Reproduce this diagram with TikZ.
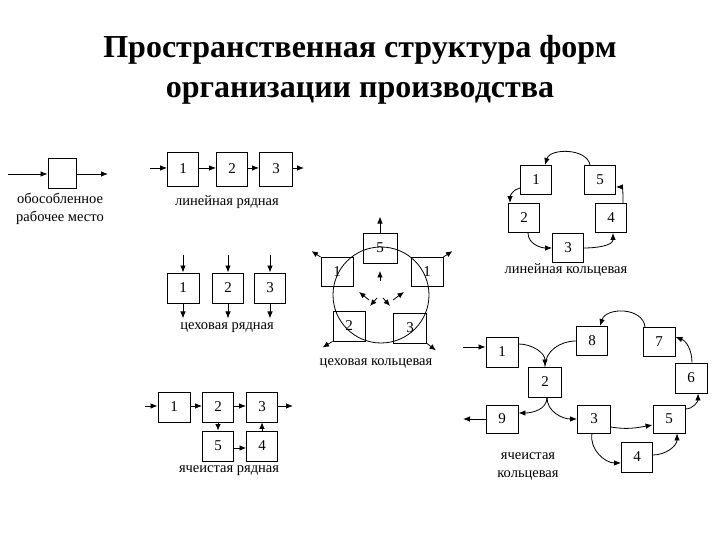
\documentclass[tikz,border=0pt]{standalone}
\usepackage{fontspec}
\setmainfont{Liberation Serif}
\usetikzlibrary{arrows.meta}
\begin{document}
\begin{tikzpicture}[x=1pt,y=1pt,
  box/.style={draw, line width=0.9pt, minimum width=31pt, minimum height=30pt, inner sep=0pt,
    text height=10pt, text depth=1.5pt, font=\fontsize{15}{16}\selectfont},
  arr/.style={line width=0.8pt, -{Latex[length=7pt,width=5.5pt]}},
  sarr/.style={line width=0.8pt, -{Latex[length=6.5pt,width=5.5pt]}},
  lbl/.style={font=\fontsize{14.5}{18}\selectfont, align=center, inner sep=0pt}]
\useasboundingbox (0,0) rectangle (720,540);

% title
\node[font=\fontsize{32}{40}\selectfont\bfseries, align=center] (title) at (360,470)
  {Пространственная структура форм\\организации производства};

% isolated workplace
\node[box, minimum width=28pt] (iso) at (62,367) {};
\coordinate (isoin) at (8,366);
\coordinate (isoout) at (108,366);
\draw[arr] (isoin) -- (iso.west |- isoin);
\draw[arr] (iso.east |- isoout) -- (isoout);
\node[lbl] (isolbl) at (60,331) {обособленное\\рабочее место};

% linear row
\node[box, minimum height=34pt] (lr1) at (183,371) {1};
\node[box, minimum height=34pt] (lr2) at (232,371) {2};
\node[box, minimum height=34pt, minimum width=33pt] (lr3) at (276,371) {3};
\coordinate (lrin) at (150,372);
\coordinate (lrout) at (304,372);
\draw[arr] (lrin) -- (lr1.west |- lrin);
\draw[arr] (lr1.east |- lrin) -- (lr2.west |- lrin);
\draw[arr] (lr2.east |- lrin) -- (lr3.west |- lrin);
\draw[arr] (lr3.east |- lrin) -- (lrout);
\node[lbl] (lrlbl) at (227,338) {линейная рядная};

% workshop row
\node[box, minimum width=32pt] (wr1) at (183,252) {1};
\node[box] (wr2) at (228,252) {2};
\node[box] (wr3) at (270,252) {3};
\foreach \b in {wr1,wr2,wr3}{
  \draw[arr] ([yshift=18pt]\b.north) -- (\b.north);
  \draw[arr] (\b.south) -- ++(0,-15);
}
\node[lbl] (wrlbl) at (227,212) {цеховая рядная};

% workshop ring
\node[draw, circle, line width=0.8pt, minimum size=96pt, inner sep=0pt] (ring) at (381,245) {};
\node[box, minimum width=34pt] (w5) at (380,292) {5};
\node[box, minimum width=32pt, minimum height=29pt] (wL) at (337,268) {1};
\node[box, minimum width=32pt, minimum height=29pt] (wR) at (427,268) {1};
\node[box, minimum width=32pt] (w2) at (349,214) {2};
\node[box, minimum width=33pt] (w3) at (410,212) {3};
\coordinate (cc) at (381,245);
\draw[arr] (w5.north) -- ++(0,16);
\draw[sarr] ([shift={(-1,14)}]cc) -- ++(0,10);
\draw[sarr] ([shift={(-12,-5)}]cc) -- ++(-10,8);
\draw[sarr] ([shift={(12,-5)}]cc) -- ++(11,8);
\draw[sarr] ([shift={(-4,-3)}]cc) -- ++(-7,-8);
\draw[sarr] ([shift={(2,-3)}]cc) -- ++(7,-8);
\draw[sarr] (wL.north west) -- ++(-9,6);
\draw[sarr] (wR.north east) -- ++(9,6);
\draw[sarr] (w2.south west) -- ++(-10,-6);
\draw[sarr] (w3.south east) -- ++(9,-7);
\node[lbl] (wklbl) at (376,177) {цеховая кольцевая};

% linear ring
\node[box, minimum height=29pt] (lk1) at (536,360) {1};
\node[box, minimum height=29pt] (lk5) at (600,360) {5};
\node[box, minimum height=29pt] (lk2) at (524,322) {2};
\node[box, minimum height=29pt] (lk4) at (611,322) {4};
\node[box, minimum height=29pt] (lk3) at (568,292) {3};
\draw[arr] ([xshift=-10pt]lk5.north) .. controls (587,392) and (550,392) .. ([xshift=9pt]lk1.north);
\draw[arr] ([yshift=-8pt]lk1.west) to[out=190,in=90] ([xshift=-14pt]lk2.north);
\draw[arr] ([xshift=4pt]lk2.south) to[out=-90,in=180] (lk3.west);
\draw[arr] (lk3.east) to[out=0,in=-90] ([xshift=2pt]lk4.south);
\draw[arr] ([xshift=12pt]lk4.north) to[out=90,in=0] ([yshift=-7pt]lk5.east);
\node[lbl] (lklbl) at (566,270) {линейная кольцевая};

% cellular row
\node[box, minimum width=32pt] (cr1) at (174,133) {1};
\node[box] (cr2) at (218,133) {2};
\node[box] (cr3) at (262,133) {3};
\node[box] (cr5) at (218,94) {5};
\node[box] (cr4) at (262,94) {4};
\coordinate (crin) at (145,134);
\coordinate (crout) at (293,134);
\draw[arr] (crin) -- (cr1.west |- crin);
\draw[arr] (cr1.east |- crin) -- (cr2.west |- crin);
\draw[arr] (cr2.east |- crin) -- (cr3.west |- crin);
\draw[arr] (cr3.east |- crin) -- (crout);
\draw[sarr] (cr2.south) -- (cr5.north);
\draw[sarr] ([yshift=-2pt]cr5.east) -- ([yshift=-2pt]cr4.west);
\draw[sarr] (cr4.north) -- (cr3.south);
\node[lbl] (crlbl) at (229,69) {ячеистая рядная};

% cellular ring
\node[box, minimum width=32pt] (cc1) at (502,188) {1};
\node[box, minimum height=29pt] (cc8) at (592,199) {8};
\node[box, minimum width=32pt, minimum height=29pt] (cc7) at (659,198) {7};
\node[box, minimum width=32pt] (cc6) at (691,162) {6};
\node[box, minimum width=33pt] (cc2) at (545,158) {2};
\node[box, minimum width=32pt, minimum height=28pt] (cc9) at (502,121) {9};
\node[box, minimum width=33pt, minimum height=28pt] (cc3) at (594,121) {3};
\node[box, minimum width=32pt, minimum height=28pt] (cc5) at (669,121) {5};
\node[box] (cc4) at (637,83) {4};
\coordinate (ccin) at (463,193);
\coordinate (ccout) at (463,121);
\draw[arr] (ccin) -- ([yshift=5pt]cc1.west);
\draw[arr] ([yshift=8pt]cc1.east) to[out=0,in=90] (cc2.north);
\draw[line width=0.8pt] (cc8.west) to[out=180,in=90] (cc2.north);
\draw[arr] ([xshift=-14pt]cc7.north) .. controls (643,233) and (606,233) .. ([xshift=8pt]cc8.north);
\draw[arr] ([xshift=1pt]cc6.north) to[out=90,in=-20] ([yshift=5pt]cc7.east);
\draw[arr] ([yshift=10pt]cc5.east) to[out=0,in=-90] ([xshift=7pt]cc6.south);
\draw[arr] ([xshift=2pt]cc2.south) to[out=-90,in=0] ([yshift=6pt]cc9.east);
\draw[arr] ([xshift=2pt]cc2.south) to[out=-90,in=180] (cc3.west);
\draw[arr] ([yshift=-8pt]cc3.east) to[out=-10,in=190] ([yshift=-6pt]cc5.west);
\draw[arr] ([xshift=-2pt]cc3.south) to[out=-100,in=180] ([yshift=-6pt]cc4.west);
\draw[arr] ([yshift=2pt]cc4.east) to[out=0,in=-90] ([xshift=8pt]cc5.south);
\draw[arr] (cc9.west) -- (ccout);
\node[lbl] (cclbl) at (528,74) {ячеистая\\кольцевая};
\end{tikzpicture}
\end{document}
